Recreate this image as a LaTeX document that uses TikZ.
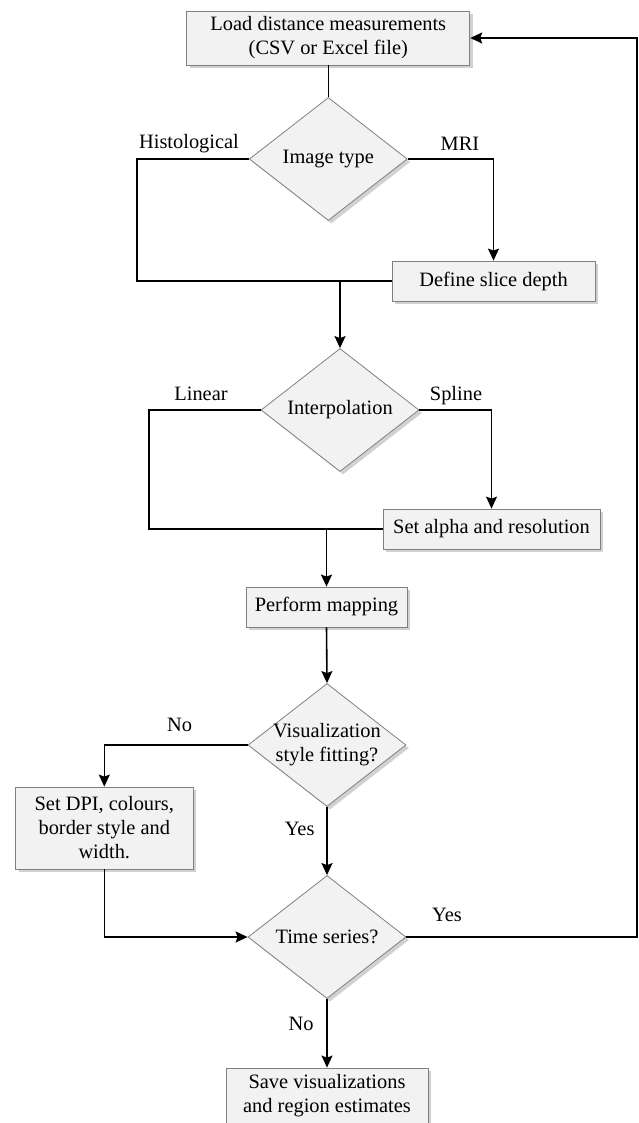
\documentclass[tikz,border=0pt]{standalone}
\usepackage{fontspec}
\setmainfont{Liberation Serif}
\usetikzlibrary{arrows.meta, shapes.geometric, shadows}

\begin{document}
\begin{tikzpicture}[x=1pt,y=-1pt,>={Stealth[length=12pt,width=11pt,inset=2pt]},
  line width=1.6pt,font=\fontsize{20.4}{24}\selectfont,
  box node/.style={rectangle,draw=black!50,line width=0.8pt,fill=black!5,align=center,
    minimum height=40pt,inner sep=2pt,
    drop shadow={shadow xshift=3pt,shadow yshift=-3pt,opacity=0.3,fill=black!60}},
  decision node/.style={diamond,draw=black!50,line width=0.8pt,fill=black!5,
    minimum width=158pt,minimum height=123pt,inner sep=0pt,
    drop shadow={shadow xshift=3pt,shadow yshift=-3pt,opacity=0.3,fill=black!60}},
  lbl/.style={anchor=base,inner sep=0pt}]
  \useasboundingbox (0,0) rectangle (638,1123);
  \node[box node, minimum width=283pt, minimum height=54pt] (load) at (328.3,38)
    {Load distance measurements\\(CSV or Excel file)};
  \node[decision node, label={center:Image type}] (type) at (328.3,159) {};
  \node[box node, minimum width=203pt] (slice) at (493.5,281) {Define slice depth};
  \node[decision node, label={center:Interpolation}] (interp) at (340,410) {};
  \node[box node, minimum width=217pt] (alpha) at (491.5,529) {Set alpha and resolution};
  \node[box node, minimum width=161pt] (mapping) at (326.5,607) {Perform mapping};
  \node[decision node, label={[align=center]center:Visualization\\style fitting?}] (visual) at (327,745) {};
  \node[box node, minimum width=177.5pt, minimum height=82pt] (dpi) at (104.3,828)
    {Set DPI, colours,\\border style and\\width.};
  \node[decision node, label={center:Time series?}] (series) at (327,937) {};
  \node[box node, minimum width=202pt, minimum height=56pt] (save) at (327,1096)
    {Save visualizations\\and region estimates};

  % branch labels
  \node[lbl] (histo) at (189,148.5) {Histological};
  \node[lbl] (mri) at (460,150.5) {MRI};
  \node[lbl] (linear) at (201,400.5) {Linear};
  \node[lbl] (spline) at (456,400.5) {Spline};
  \node[lbl] (visno) at (179.5,731) {No};
  \node[lbl] (visyes) at (299.6,835) {Yes};
  \node[lbl] (seryes) at (447,921.5) {Yes};
  \node[lbl] (serno) at (301,1030) {No};

  \coordinate (back) at (637,937);

  \draw (load.south) -- (type.north);
  \draw (type.west) -- ++(-112,0) |- (slice.west);
  \draw[->] (type.east) -| (slice.north);
  \draw[->] (slice.west -| interp.north) -- (interp.north);
  \draw (interp.west) -- ++(-111.5,0) |- (alpha.west);
  \draw[->] (interp.east) -| (alpha.north);
  \draw[->] (alpha.west -| mapping.north) -- (mapping.north);
  \draw[->] (mapping.south) -- (visual.north);
  \draw[->] (visual.west) -| (dpi.north);
  \draw[->] (visual.south) -- (series.north);
  \draw[->] (dpi.south) |- (series.west);
  \draw[->] (series.east) -- (back) |- (load.east);
  \draw[->] (series.south) -- (save.north);
\end{tikzpicture}
\end{document}
